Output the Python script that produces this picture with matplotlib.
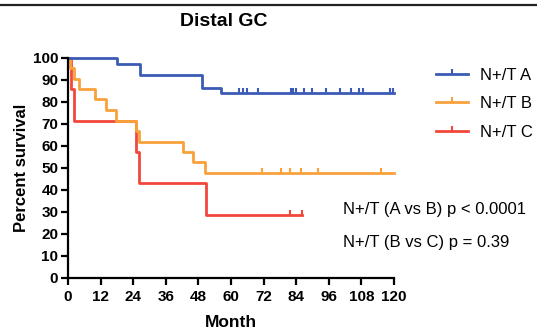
import matplotlib
matplotlib.use('Agg')
import matplotlib.pyplot as plt
from matplotlib.lines import Line2D

plt.rcParams['font.family'] = ['Liberation Sans', 'DejaVu Sans']

# survival curves: event times (months) and survival (%) right after each event
a_times = [18.2, 26.4, 49.2, 56.3]
a_surv = [97.1, 92.0, 86.2, 83.8]
a_end = 120
a_censor = [63, 64.5, 66, 70, 82, 83, 84, 87, 90, 95, 100, 104, 107, 108.5, 118.5, 119.5]

b_times = [0.8, 2.1, 4.0, 10.1, 13.9, 17.5, 25.0, 26.2, 42.5, 46.1, 50.6]
b_surv = [95.2, 90.5, 85.7, 81.0, 76.2, 71.4, 66.7, 61.9, 57.1, 52.4, 47.6]
b_end = 120
b_censor = [71.4, 78.3, 81.6, 85.6, 92.1, 115.1]

c_times = [1.0, 2.2, 25.2, 26.2, 50.8]
c_surv = [85.7, 71.4, 57.1, 42.9, 28.6]
c_end = 86
c_censor = [81.6, 86]

labels = ['N+/T A', 'N+/T B', 'N+/T C']
colors = ['#3b5bb5', '#f9a13a', '#f2473b']
x_ticks = list(range(0, 121, 12))
y_ticks = list(range(0, 101, 10))

# censor mark: a short tick pointing up from the curve
tick_up = [(0, 0), (0, 1)]


def step_curve(times, surv, end):
    xs = [0] + times + [end]
    ys = [100] + surv + [surv[-1]]
    return xs, ys


def surv_at(t, times, surv):
    s = 100
    for ti, si in zip(times, surv):
        if ti <= t:
            s = si
    return s


fig = plt.figure(figsize=(5.37, 3.31), dpi=100)
ax = fig.add_axes([0.1266, 0.161, 0.6071, 0.6647])

curves = [(c_times, c_surv, c_end, c_censor, colors[2]),
          (b_times, b_surv, b_end, b_censor, colors[1]),
          (a_times, a_surv, a_end, a_censor, colors[0])]
for times, surv, end, censor, color in curves:
    xs, ys = step_curve(times, surv, end)
    ax.step(xs, ys, where='post', color=color, lw=2, clip_on=False)
    cy = [surv_at(t, times, surv) for t in censor]
    ax.plot(censor, cy, ls='none', marker=tick_up, ms=7, mew=1.5, color=color, clip_on=False)

ax.set_xlim(0, 120)
ax.set_ylim(0, 100)
ax.set_xticks(x_ticks)
ax.set_yticks(y_ticks)
for side in ['top', 'right']:
    ax.spines[side].set_visible(False)
for side in ['left', 'bottom']:
    ax.spines[side].set_linewidth(1.6)
ax.spines['left'].set_bounds(0, 100)
ax.spines['bottom'].set_bounds(0, 120)
ax.tick_params(width=1.6, length=5, labelsize=11, pad=2)
ax.tick_params(axis='x', pad=4)
for lab in ax.get_xticklabels() + ax.get_yticklabels():
    lab.set_fontweight('bold')

ax.set_xlabel('Month', fontsize=12.5, fontweight='bold', labelpad=8)
ax.set_ylabel('Percent survival', fontsize=12, fontweight='bold', labelpad=3)
fig.text(0.417, 0.934, 'Distal GC', fontsize=14, fontweight='bold', ha='center', va='center')

handles = [Line2D([], [], color=c, lw=2, marker=tick_up, ms=7, mew=1.5) for c in colors]
fig.legend(handles, labels, loc='upper left', bbox_to_anchor=(0.80, 0.815),
           frameon=False, fontsize=12, handlelength=1.9, handletextpad=0.7,
           labelspacing=0.8, borderaxespad=0, markerscale=1)

fig.text(0.639, 0.366, 'N+/T (A vs B) p < 0.0001', fontsize=12, va='center')
fig.text(0.639, 0.266, 'N+/T (B vs C) p = 0.39', fontsize=12, va='center')

# rule across the top of the panel
fig.add_artist(Line2D([0, 1], [0.985, 0.985], color='#222222', lw=1.6, transform=fig.transFigure))

fig.savefig('out.png', dpi=100)
